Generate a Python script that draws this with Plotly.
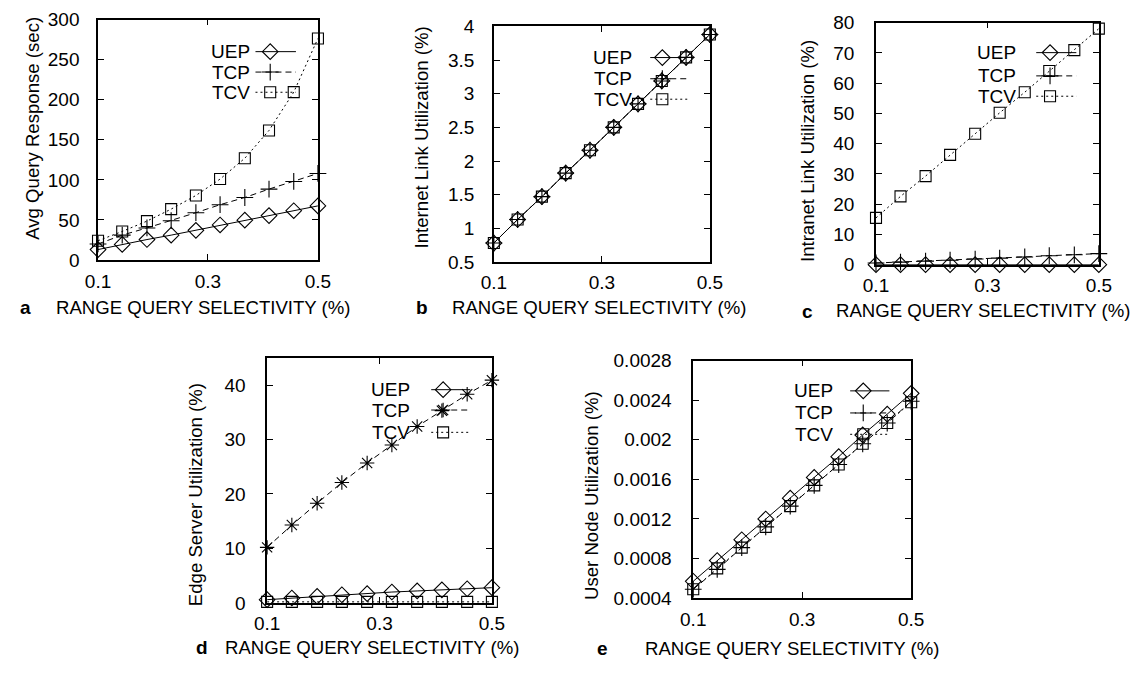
import plotly.graph_objects as go

W, H = 1148, 674
FONT = "Liberation Sans, Arial, Helvetica, sans-serif"
FS = 19

# ---------------- data ----------------
X = [0.1, 0.144, 0.189, 0.233, 0.278, 0.322, 0.367, 0.411, 0.456, 0.5]
SERIES = ["UEP", "TCP", "TCV"]

a_uep = [13, 19.4, 25.5, 31, 37, 43.7, 49.7, 55.4, 61.5, 67.5]
a_tcp = [20, 31, 40, 49, 59, 69, 78, 88.5, 98, 108]
a_tcv = [24, 35.6, 48.5, 63.5, 80.5, 101, 127, 161.7, 209.5, 276.6]

b_uep = [0.78, 1.13, 1.47, 1.82, 2.16, 2.50, 2.85, 3.19, 3.54, 3.88]
b_tcp = [0.78, 1.13, 1.47, 1.82, 2.16, 2.50, 2.85, 3.19, 3.54, 3.88]
b_tcv = [0.78, 1.13, 1.47, 1.82, 2.16, 2.50, 2.85, 3.19, 3.54, 3.88]

c_uep = [0.05, 0.05, 0.05, 0.05, 0.05, 0.05, 0.05, 0.05, 0.05, 0.05]
c_tcp = [0.6, 0.9, 1.2, 1.5, 1.9, 2.2, 2.6, 3.0, 3.3, 3.7]
c_tcv = [15.5, 22.6, 29.3, 36.3, 43.3, 50.2, 57.0, 64.0, 70.9, 78.0]

d_uep = [0.6, 0.9, 1.2, 1.5, 1.7, 2.0, 2.2, 2.4, 2.6, 2.8]
d_tcp = [10.2, 14.3, 18.3, 22.1, 25.7, 29.0, 32.4, 35.3, 38.3, 40.9]
d_tcv = [0.2, 0.2, 0.2, 0.2, 0.2, 0.2, 0.2, 0.2, 0.2, 0.2]

e_uep = [0.00057, 0.00078, 0.00099, 0.00120, 0.00141, 0.00162, 0.00183, 0.00205, 0.00226, 0.00247]
e_tcp = [0.00049, 0.00069, 0.00091, 0.00112, 0.00133, 0.00154, 0.00175, 0.00196, 0.00217, 0.00239]
e_tcv = [0.00049, 0.00070, 0.00091, 0.00112, 0.00133, 0.00154, 0.00175, 0.00196, 0.00217, 0.00238]

X_TICKS = [0.1, 0.3, 0.5]
X_TICKTEXT = ["0.1", "0.3", "0.5"]

a_ticks = [0, 50, 100, 150, 200, 250, 300]
b_ticks = [0.5, 1, 1.5, 2, 2.5, 3, 3.5, 4]
c_ticks = [0, 10, 20, 30, 40, 50, 60, 70, 80]
d_ticks = [0, 10, 20, 30, 40]
e_ticks = [0.0004, 0.0008, 0.0012, 0.0016, 0.002, 0.0024, 0.0028]
e_ticktext = ["0.0004", "0.0008", "0.0012", "0.0016", "0.002", "0.0024", "0.0028"]

Y_TITLES = ["Avg Query Response (sec)", "Internet Link Utilization (%)",
            "Intranet Link Utilization (%)", "Edge Server Utilization (%)",
            "User Node Utilization (%)"]
X_TITLE = "RANGE QUERY SELECTIVITY (%)"
LETTERS = ["a", "b", "c", "d", "e"]

# ---------------- layout geometry (pixels) ----------------
panels = [
    dict(data=[a_uep, a_tcp, a_tcv], yr=[0, 300], yt=a_ticks, ytt=[str(v) for v in a_ticks],
         box=(87, 312, 10, 258), tcp_sym="cross-thin-open", ystand=13,
         leg=dict(tx=0.70, l0=0.716, l1=0.90, m=0.783, rows=[0.867, 0.782, 0.698]),
         ytitle=(20, 122), lab=(5, 307), tit=(42, 307)),
    dict(data=[b_uep, b_tcp, b_tcv], yr=[0.5, 4], yt=b_ticks, ytt=[str(v) for v in b_ticks],
         box=(492, 713, 17, 260), tcp_sym="cross-thin-open", ystand=14,
         leg=dict(tx=0.647, l0=0.724, l1=0.896, m=0.78, rows=[0.868, 0.778, 0.691]),
         ytitle=(418, 132), lab=(410, 307), tit=(447, 307)),
    dict(data=[c_uep, c_tcp, c_tcv], yr=[0, 80], yt=c_ticks, ytt=[str(v) for v in c_ticks],
         box=(883, 1111, 13, 263), tcp_sym="cross-thin-open", ystand=16,
         leg=dict(tx=0.636, l0=0.719, l1=0.899, m=0.781, rows=[0.876, 0.78, 0.696]),
         ytitle=(813, 146), lab=(805, 311), tit=(840, 310)),
    dict(data=[d_uep, d_tcp, d_tcv], yr=[0, 45], yt=d_ticks, ytt=[str(v) for v in d_ticks],
         box=(260, 490, 359, 612), tcp_sym="asterisk-open", ystand=16,
         leg=dict(tx=0.643, l0=0.73, l1=0.904, m=0.783, rows=[0.87, 0.787, 0.696]),
         ytitle=(187, 500), lab=(185, 658), tit=(215, 658)),
    dict(data=[e_uep, e_tcp, e_tcv], yr=[0.0004, 0.0028], yt=e_ticks, ytt=e_ticktext,
         box=(696, 919, 362, 607), tcp_sym="cross-thin-open", ystand=16,
         leg=dict(tx=0.65, l0=0.72, l1=0.90, m=0.78, rows=[0.873, 0.78, 0.69]),
         ytitle=(592, 501), lab=(595, 659), tit=(645, 659)),
]

XR = [0.1, 0.5]
DASHES = ["solid", "6px,4px", "2px,3px"]


def px(x):
    return x / W


def py(y):
    return 1 - y / H


fig = go.Figure()
annotations = []
shapes = []
layout_axes = {}

for i, p in enumerate(panels):
    n = i + 1
    xa = "x" if n == 1 else f"x{n}"
    ya = "y" if n == 1 else f"y{n}"
    x0, x1, y0, y1 = p["box"]
    syms = ["diamond-open", p["tcp_sym"], "square-open"]
    sizes = [12, 12, 11]
    for k, (name, vals) in enumerate(zip(SERIES, p["data"])):
        fig.add_trace(go.Scatter(
            x=X, y=vals, xaxis=xa, yaxis=ya, mode="lines+markers", name=name,
            showlegend=False, cliponaxis=False,
            line=dict(color="black", width=1, dash=DASHES[k]),
            marker=dict(symbol=syms[k], size=sizes[k], color="black",
                        line=dict(color="black", width=1.1)),
        ))
        # key (legend) entry, placed relative to the axis ranges
        lg = p["leg"]
        ry = lg["rows"][k]
        yk = p["yr"][0] + ry * (p["yr"][1] - p["yr"][0])
        xk = XR[0] + lg["m"] * (XR[1] - XR[0])
        annotations.append(dict(
            text=name, xref=f"{xa} domain", yref=f"{ya} domain", x=lg["tx"], y=ry,
            xanchor="right", yanchor="middle", showarrow=False,
            font=dict(family=FONT, size=FS, color="black")))
        shapes.append(dict(
            type="line", xref=f"{xa} domain", yref=f"{ya} domain",
            x0=lg["l0"], x1=lg["l1"], y0=ry, y1=ry,
            line=dict(color="black", width=1, dash=DASHES[k])))
        fig.add_trace(go.Scatter(
            x=[xk], y=[yk], xaxis=xa, yaxis=ya, mode="markers", showlegend=False,
            cliponaxis=False, hoverinfo="skip",
            marker=dict(symbol=syms[k], size=sizes[k], color="black",
                        line=dict(color="black", width=1.1))))

    axcommon = dict(showline=True, linecolor="black", linewidth=1.5, mirror="allticks",
                    ticks="inside", ticklen=6, tickwidth=1, tickcolor="black",
                    showgrid=False, zeroline=False,
                    tickfont=dict(family=FONT, size=FS, color="black"))
    layout_axes["xaxis" if n == 1 else f"xaxis{n}"] = dict(
        axcommon, domain=[px(x0), px(x1)], range=XR, tickmode="array",
        tickvals=X_TICKS, ticktext=X_TICKTEXT, anchor=ya, ticklabelstandoff=3)
    layout_axes["yaxis" if n == 1 else f"yaxis{n}"] = dict(
        axcommon, domain=[py(y1), py(y0)], range=p["yr"], tickmode="array",
        tickvals=p["yt"], ticktext=p["ytt"], anchor=xa, ticklabelstandoff=p["ystand"])

    # y title
    tx, ty = p["ytitle"]
    annotations.append(dict(
        text=Y_TITLES[i], xref="paper", yref="paper", x=px(tx), y=py(ty),
        xanchor="center", yanchor="middle", textangle=-90, showarrow=False,
        font=dict(family=FONT, size=18.6, color="black")))
    # panel letter + x title
    lx, ly = p["lab"]
    annotations.append(dict(
        text=f"<b>{LETTERS[i]}</b>", xref="paper", yref="paper", x=px(lx), y=py(ly),
        xanchor="left", yanchor="middle", showarrow=False,
        font=dict(family=FONT, size=FS, color="black")))
    tx2, ty2 = p["tit"]
    annotations.append(dict(
        text=X_TITLE, xref="paper", yref="paper", x=px(tx2), y=py(ty2),
        xanchor="left", yanchor="middle", showarrow=False,
        font=dict(family=FONT, size=18.6, color="black")))

fig.update_layout(
    width=W, height=H, margin=dict(l=0, r=0, t=0, b=0),
    paper_bgcolor="white", plot_bgcolor="white", showlegend=False,
    annotations=annotations, shapes=shapes, **layout_axes,
)

fig.write_html("out.html")
